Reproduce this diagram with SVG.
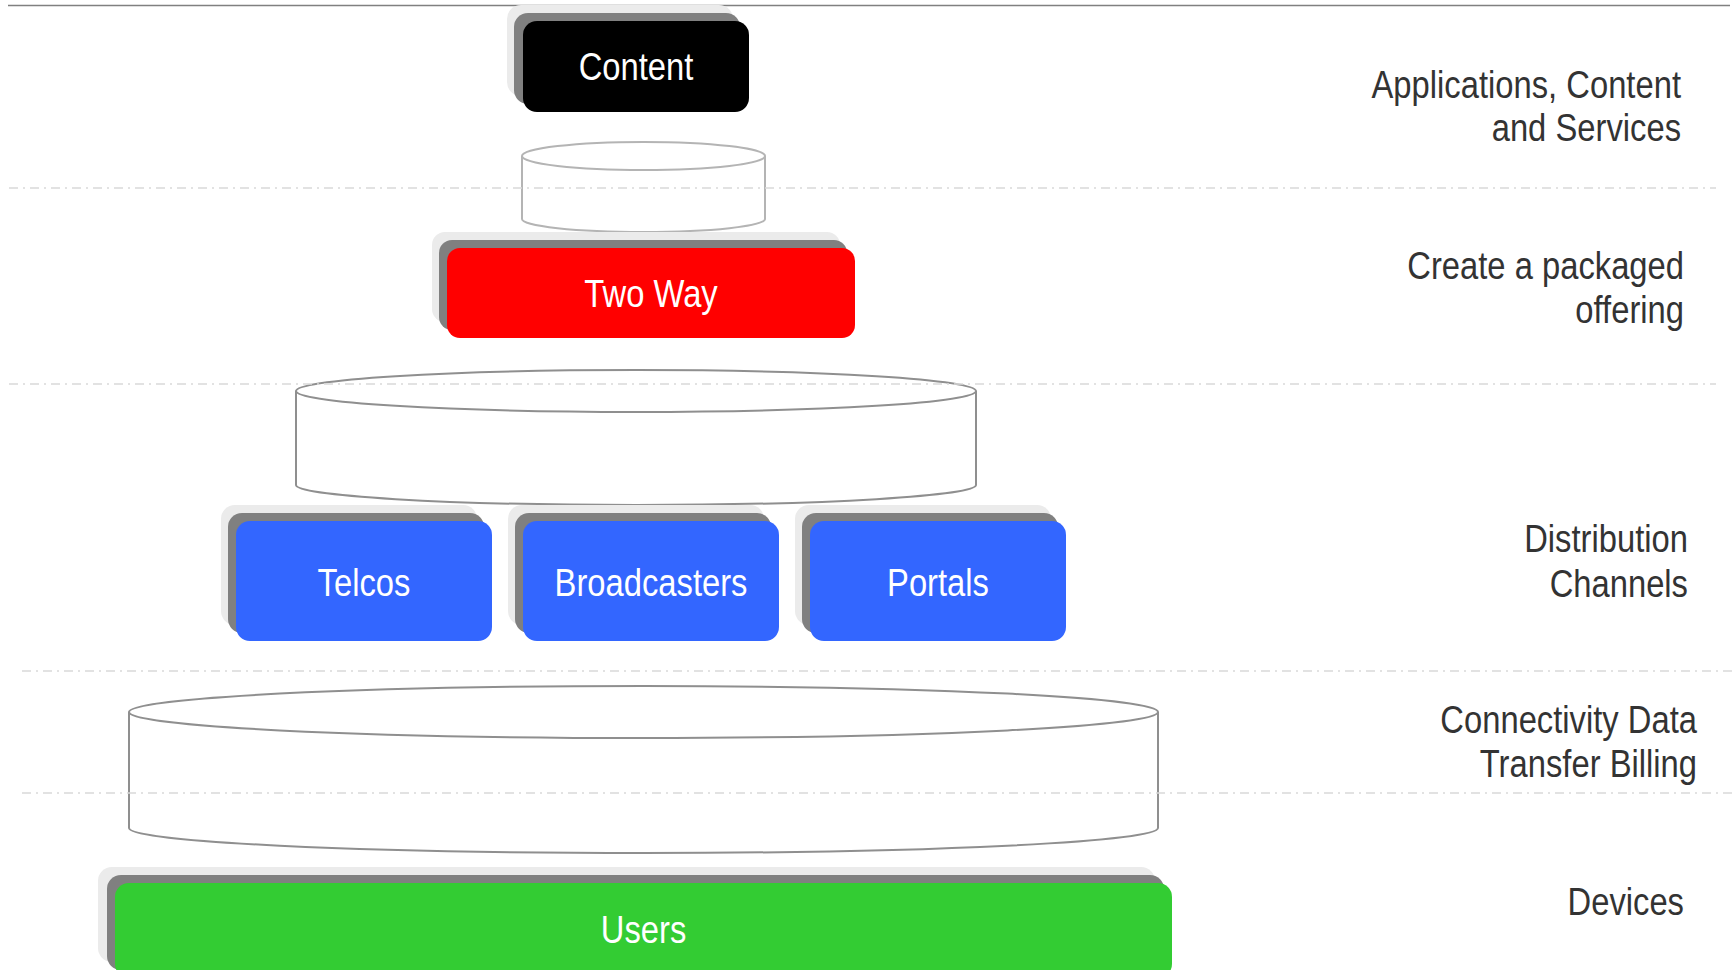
<svg xmlns="http://www.w3.org/2000/svg" width="1736" height="970" viewBox="0 0 1736 970">
  <defs>
    <style>
      .lbl { font-family: "Liberation Sans", Arial, sans-serif; font-size: 39px; }
      .in { fill: #ffffff; text-anchor: middle; }
      .side { fill: #333333; text-anchor: end; }
      .sh1 { fill: #ebebeb; }
      .sh2 { fill: #808080; }
      .cyl { fill: #ffffff; stroke: #8f8f8f; stroke-width: 2; }
      .cyl-light { fill: #ffffff; stroke: #b4b4b4; stroke-width: 2; }
      .sep { stroke: #d9d9d9; stroke-width: 1.6; stroke-dasharray: 9 5 2 5; fill: none; }
    </style>
  </defs>

  <rect width="1736" height="970" fill="#ffffff"/>

  <!-- top rule -->
  <line x1="8" y1="5.5" x2="1730" y2="5.5" stroke="#808080" stroke-width="1.6"/>

  <!-- layer: content -->
  <g id="node-content">
    <rect class="sh1" x="507" y="5" width="226" height="91" rx="14"/>
    <rect class="sh2" x="514" y="13" width="226" height="91" rx="14"/>
    <rect x="523" y="21" width="226" height="91" rx="14" fill="#000000"/>
    <text class="lbl in" transform="translate(636 80) scale(0.84 1)">Content</text>
  </g>

  <!-- small platform -->
  <g id="cylinder-top">
    <path class="cyl-light" d="M522 156 V219 A121.5 13 0 0 0 765 219 V156"/>
    <ellipse class="cyl-light" cx="643.5" cy="156" rx="121.5" ry="14"/>
  </g>

  <!-- layer: two way -->
  <g id="node-twoway">
    <rect class="sh1" x="432" y="232" width="408" height="90" rx="13"/>
    <rect class="sh2" x="439" y="240" width="408" height="90" rx="13"/>
    <rect x="447" y="248" width="408" height="90" rx="13" fill="#ff0000"/>
    <text class="lbl in" transform="translate(651 307) scale(0.84 1)">Two Way</text>
  </g>

  <!-- middle platform -->
  <g id="cylinder-middle">
    <path class="cyl" d="M296 391 V485 A340 20 0 0 0 976 485 V391"/>
    <ellipse class="cyl" cx="636" cy="391" rx="340" ry="21"/>
  </g>

  <!-- layer: distribution channels -->
  <g id="node-telcos">
    <rect class="sh1" x="221" y="505" width="256" height="120" rx="14"/>
    <rect class="sh2" x="228" y="513" width="256" height="120" rx="14"/>
    <rect x="236" y="521" width="256" height="120" rx="14" fill="#3366ff"/>
    <text class="lbl in" transform="translate(364 596) scale(0.84 1)">Telcos</text>
  </g>
  <g id="node-broadcasters">
    <rect class="sh1" x="508" y="505" width="256" height="120" rx="14"/>
    <rect class="sh2" x="515" y="513" width="256" height="120" rx="14"/>
    <rect x="523" y="521" width="256" height="120" rx="14" fill="#3366ff"/>
    <text class="lbl in" transform="translate(651 596) scale(0.84 1)">Broadcasters</text>
  </g>
  <g id="node-portals">
    <rect class="sh1" x="795" y="505" width="256" height="120" rx="14"/>
    <rect class="sh2" x="802" y="513" width="256" height="120" rx="14"/>
    <rect x="810" y="521" width="256" height="120" rx="14" fill="#3366ff"/>
    <text class="lbl in" transform="translate(938 596) scale(0.84 1)">Portals</text>
  </g>

  <!-- bottom platform -->
  <g id="cylinder-bottom">
    <path class="cyl" d="M129 712 V828 A514.5 25 0 0 0 1158 828 V712"/>
    <ellipse class="cyl" cx="643.5" cy="712" rx="514.5" ry="26"/>
  </g>

  <!-- layer: users -->
  <g id="node-users">
    <rect class="sh1" x="98" y="867" width="1057" height="95" rx="14"/>
    <rect class="sh2" x="107" y="875" width="1057" height="95" rx="14"/>
    <rect x="115" y="883" width="1057" height="95" rx="14" fill="#33cc33"/>
    <text class="lbl in" transform="translate(643.5 943) scale(0.84 1)">Users</text>
  </g>

  <!-- layer separators -->
  <g id="connectors">
    <line class="sep" x1="9" y1="188" x2="1716" y2="188"/>
    <line class="sep" x1="9" y1="384" x2="1716" y2="384"/>
    <line class="sep" x1="22" y1="671" x2="1736" y2="671"/>
    <line class="sep" x1="22" y1="793" x2="1736" y2="793"/>
  </g>

  <!-- layer captions -->
  <g id="captions">
    <text class="lbl side" transform="translate(1681 98) scale(0.84 1)">Applications, Content</text>
    <text class="lbl side" transform="translate(1681 141) scale(0.84 1)">and Services</text>
    <text class="lbl side" transform="translate(1684 279) scale(0.84 1)">Create a packaged</text>
    <text class="lbl side" transform="translate(1684 323) scale(0.84 1)">offering</text>
    <text class="lbl side" transform="translate(1688 552) scale(0.84 1)">Distribution</text>
    <text class="lbl side" transform="translate(1688 597) scale(0.84 1)">Channels</text>
    <text class="lbl side" transform="translate(1697 733) scale(0.84 1)">Connectivity Data</text>
    <text class="lbl side" transform="translate(1697 777) scale(0.84 1)">Transfer Billing</text>
    <text class="lbl side" transform="translate(1684 915) scale(0.84 1)">Devices</text>
  </g>
</svg>
